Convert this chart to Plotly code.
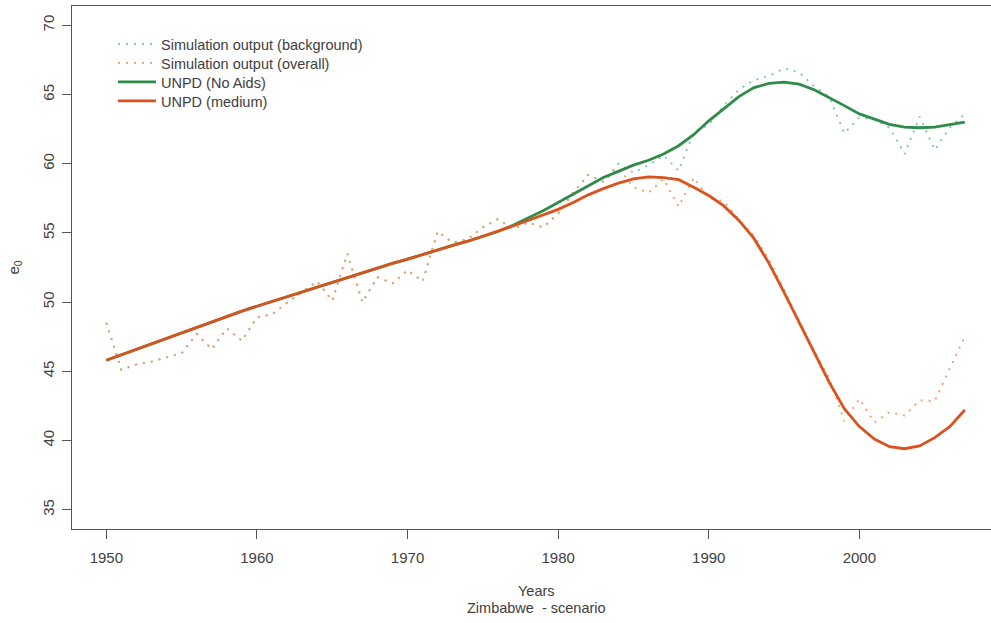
import plotly.graph_objects as go

years = list(range(1950, 2008))

sim_background = [
    48.5, 45.1, 45.5, 45.7, 46.0, 46.3, 47.7, 46.6, 48.1, 47.2,
    48.9, 49.1, 49.95, 50.75, 51.5, 50.1, 53.5, 50.0, 51.8, 51.35,
    52.3, 51.5, 55.1, 54.3, 54.55, 55.4, 56.0, 55.3, 55.75, 55.4,
    56.4, 57.9, 59.2, 58.7, 60.0, 59.35, 59.9, 60.6, 59.5, 62.3,
    62.8, 64.2, 65.35, 66.05, 66.35, 66.9, 66.6, 65.6, 64.85, 62.2,
    63.35, 63.2, 62.6, 60.7, 63.4, 61.0, 62.6, 63.6,
]

sim_overall = [
    48.5, 45.1, 45.5, 45.7, 46.0, 46.3, 47.7, 46.6, 48.1, 47.2,
    48.9, 49.1, 49.95, 50.75, 51.5, 50.1, 53.5, 50.0, 51.8, 51.35,
    52.3, 51.5, 55.1, 54.3, 54.55, 55.4, 56.0, 55.3, 55.75, 55.4,
    56.4, 57.9, 59.2, 58.7, 59.7, 58.3, 57.9, 58.9, 56.9, 59.0,
    57.5, 57.3, 56.0, 54.8, 53.1, 50.9, 48.7, 46.5, 44.5, 41.4,
    43.0, 41.3, 42.05, 41.8, 42.9, 42.85, 45.2, 47.5,
]

unpd_noaids = [
    45.8, 46.2, 46.6, 47.0, 47.4, 47.8, 48.2, 48.6, 49.0, 49.35,
    49.7, 50.05, 50.4, 50.75, 51.1, 51.45, 51.8, 52.1, 52.45, 52.8,
    53.1, 53.45, 53.8, 54.1, 54.4, 54.75, 55.1, 55.55, 56.05, 56.6,
    57.2, 57.8, 58.45, 59.0, 59.45, 59.9, 60.25, 60.7, 61.3, 62.1,
    63.1, 64.0, 64.85, 65.5, 65.8, 65.9, 65.75, 65.35, 64.8, 64.2,
    63.6, 63.2, 62.85, 62.65, 62.6, 62.65, 62.8, 63.0,
]

unpd_medium = [
    45.8, 46.2, 46.6, 47.0, 47.4, 47.8, 48.2, 48.6, 49.0, 49.35,
    49.7, 50.05, 50.4, 50.75, 51.1, 51.45, 51.8, 52.1, 52.45, 52.8,
    53.1, 53.45, 53.8, 54.1, 54.4, 54.75, 55.1, 55.5, 55.9, 56.3,
    56.7, 57.2, 57.75, 58.2, 58.6, 58.9, 59.05, 59.0, 58.85, 58.3,
    57.7, 56.95, 55.9, 54.6, 52.8, 50.7, 48.5, 46.3, 44.2, 42.3,
    41.0, 40.1, 39.55, 39.4, 39.6, 40.2, 41.0, 42.2,
]

x_ticks = [1950, 1960, 1970, 1980, 1990, 2000]
y_ticks = [35, 40, 45, 50, 55, 60, 65, 70]

FONT = "Liberation Sans, Arial, sans-serif"
TXT = "#404040"
AX = "#555555"

series = [
    ("Simulation output (background)", sim_background, dict(color="#7cc3ad", width=1.8, dash="2px,6px"), "legend"),
    ("Simulation output (overall)", sim_overall, dict(color="#f59a6a", width=1.8, dash="2px,6px"), "legend2"),
    ("UNPD (No Aids)", unpd_noaids, dict(color="#2e8b4a", width=2.8), "legend3"),
    ("UNPD (medium)", unpd_medium, dict(color="#d9531e", width=2.8), "legend4"),
]

fig = go.Figure()
for name, vals, line, lg in series:
    fig.add_trace(go.Scatter(x=years, y=vals, mode="lines", name=name, line=line, legend=lg))

legend_rows = {"legend": 0.9273, "legend2": 0.891, "legend3": 0.8547, "legend4": 0.8184}
legend_layouts = {}
for key, yv in legend_rows.items():
    legend_layouts[key] = dict(
        x=0.0446, y=yv, xanchor="left", yanchor="middle",
        bgcolor="rgba(0,0,0,0)", borderwidth=0,
        font=dict(family=FONT, size=14.5, color=TXT),
        itemwidth=38,
    )

fig.update_layout(
    width=991, height=623,
    margin=dict(l=72, r=0, t=6, b=94, autoexpand=False),
    paper_bgcolor="white", plot_bgcolor="white",
    font=dict(family=FONT, size=15, color=TXT),
    showlegend=True,
    xaxis=dict(
        range=[1947.72, 2008.74], tickvals=x_ticks,
        showgrid=False, zeroline=False,
        showline=True, linecolor=AX, linewidth=1, mirror=True,
        ticks="outside", ticklen=9, tickcolor=AX, tickwidth=1,
        ticklabelstandoff=6,
        tickfont=dict(family=FONT, size=15, color=TXT),
    ),
    yaxis=dict(
        range=[33.6, 71.4], tickvals=y_ticks,
        showgrid=False, zeroline=False,
        showline=True, linecolor=AX, linewidth=1, mirror=False,
        ticks="outside", ticklen=9, tickcolor=AX, tickwidth=1,
        tickangle=-90, ticklabelstandoff=2,
        tickfont=dict(family=FONT, size=15, color=TXT),
    ),
    annotations=[
        dict(text="Years", xref="paper", yref="paper", x=0.505, y=-0.1185,
             xanchor="center", yanchor="middle", showarrow=False,
             font=dict(family=FONT, size=14.5, color=TXT)),
        dict(text="Zimbabwe\u00a0 - scenario", xref="paper", yref="paper", x=0.505, y=-0.151,
             xanchor="center", yanchor="middle", showarrow=False,
             font=dict(family=FONT, size=14.5, color=TXT)),
        dict(text="e<sub>0</sub>", xref="paper", yref="paper", x=-0.0631, y=0.5,
             xanchor="center", yanchor="middle", showarrow=False, textangle=-90,
             font=dict(family=FONT, size=15, color=TXT)),
    ],
    **legend_layouts,
)

fig.write_html("out.html", config={"displayModeBar": False},
               post_script="document.body.style.margin='0px';")
